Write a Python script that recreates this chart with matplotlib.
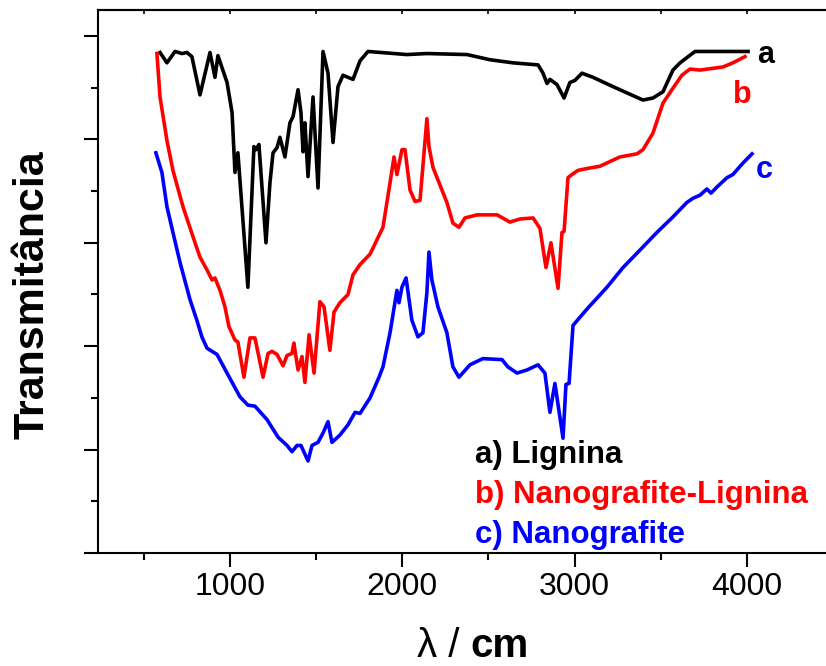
import matplotlib.pyplot as plt
import numpy as np

plt.rcParams['font.family'] = ['Liberation Sans', 'DejaVu Sans']

# a) Lignina
wn_a = [594, 634, 681, 721, 750, 779, 826, 884, 913, 930, 983, 1012, 1029, 1046,
        1104, 1139, 1151, 1168, 1209, 1232, 1250, 1273, 1290, 1319, 1348, 1366,
        1395, 1412, 1424, 1435, 1453, 1482, 1511, 1540, 1569, 1598, 1627, 1656,
        1714, 1755, 1801, 2027, 2143, 2376, 2509, 2643, 2788, 2817, 2840, 2857,
        2898, 2939, 2973, 3002, 3043, 3107, 3223, 3397, 3455, 3513, 3571, 3612,
        3699, 4007]
tr_a = [4.84, 4.74, 4.85, 4.83, 4.84, 4.80, 4.43, 4.84, 4.60, 4.81, 4.55, 4.26,
        3.68, 3.87, 2.57, 3.93, 3.90, 3.95, 3.00, 3.58, 3.87, 3.92, 4.02, 3.83,
        4.16, 4.22, 4.48, 4.26, 3.88, 4.16, 3.64, 4.41, 3.53, 4.85, 4.64, 3.97,
        4.51, 4.62, 4.58, 4.76, 4.85, 4.82, 4.83, 4.82, 4.77, 4.74, 4.72, 4.64,
        4.54, 4.58, 4.53, 4.40, 4.55, 4.57, 4.64, 4.60, 4.51, 4.38, 4.40, 4.46,
        4.67, 4.74, 4.85, 4.85]

# b) Nanografite-Lignina
wn_b = [576, 594, 634, 669, 727, 785, 826, 866, 896, 913, 942, 971, 994, 1029,
        1046, 1081, 1116, 1145, 1192, 1221, 1244, 1273, 1308, 1331, 1360, 1371,
        1395, 1418, 1435, 1459, 1488, 1522, 1546, 1580, 1604, 1638, 1685, 1714,
        1755, 1813, 1888, 1929, 1952, 1969, 1998, 2016, 2045, 2074, 2103, 2143,
        2155, 2178, 2259, 2294, 2329, 2364, 2434, 2550, 2625, 2683, 2759, 2799,
        2834, 2863, 2904, 2927, 2939, 2962, 2985, 3020, 3078, 3147, 3263, 3362,
        3397, 3455, 3513, 3565, 3623, 3670, 3728, 3861, 3919, 3989]
tr_b = [4.83, 4.41, 3.99, 3.70, 3.35, 3.06, 2.86, 2.74, 2.64, 2.66, 2.54, 2.38,
        2.19, 2.06, 2.04, 1.70, 2.08, 2.08, 1.70, 1.93, 1.95, 1.92, 1.81, 1.91,
        1.93, 2.03, 1.77, 1.90, 1.65, 2.11, 1.74, 2.43, 2.38, 1.96, 2.33, 2.42,
        2.50, 2.69, 2.79, 2.89, 3.15, 3.58, 3.83, 3.66, 3.90, 3.90, 3.51, 3.40,
        3.41, 4.20, 3.93, 3.73, 3.39, 3.19, 3.15, 3.24, 3.27, 3.27, 3.20, 3.23,
        3.24, 3.14, 2.76, 3.00, 2.56, 3.10, 3.11, 3.63, 3.66, 3.70, 3.72, 3.74,
        3.83, 3.86, 3.90, 4.06, 4.35, 4.48, 4.62, 4.68, 4.67, 4.70, 4.74, 4.80]

# c) Nanografite
wn_c = [570, 605, 634, 669, 710, 768, 808, 837, 867, 925, 983, 1058, 1104, 1145,
        1215, 1279, 1331, 1360, 1389, 1412, 1453, 1476, 1511, 1540, 1569, 1592,
        1638, 1685, 1726, 1755, 1813, 1865, 1888, 1929, 1969, 1981, 1998, 2022,
        2056, 2091, 2120, 2143, 2155, 2172, 2207, 2259, 2294, 2329, 2393, 2468,
        2579, 2613, 2666, 2724, 2788, 2828, 2857, 2886, 2933, 2950, 2968, 2991,
        3026, 3078, 3188, 3281, 3380, 3478, 3571, 3652, 3687, 3728, 3768, 3792,
        3827, 3885, 3919, 3977, 4030]
tr_c = [3.87, 3.68, 3.35, 3.10, 2.81, 2.45, 2.25, 2.09, 1.98, 1.92, 1.74, 1.51,
        1.43, 1.42, 1.29, 1.12, 1.04, 0.98, 1.04, 1.04, 0.89, 1.04, 1.07, 1.16,
        1.27, 1.07, 1.14, 1.24, 1.36, 1.35, 1.50, 1.70, 1.80, 2.13, 2.54, 2.42,
        2.57, 2.66, 2.25, 2.09, 2.13, 2.52, 2.91, 2.64, 2.38, 2.13, 1.80, 1.70,
        1.82, 1.88, 1.87, 1.80, 1.74, 1.77, 1.82, 1.74, 1.36, 1.64, 1.11, 1.63,
        1.64, 2.20, 2.27, 2.37, 2.57, 2.76, 2.93, 3.10, 3.25, 3.39, 3.43, 3.46,
        3.52, 3.48, 3.54, 3.63, 3.66, 3.77, 3.86]

series = [(wn_a, tr_a, 'black'), (wn_b, tr_b, 'red'), (wn_c, tr_c, 'blue')]
end_labels = [('a', 'black', 4060, 4.74), ('b', 'red', 3920, 4.35), ('c', 'blue', 4050, 3.63)]
legend_lines = [('a) Lignina', 'black', 0.87), ('b) Nanografite-Lignina', 'red', 0.48),
                ('c) Nanografite', 'blue', 0.10)]

fig = plt.figure(figsize=(8.26, 6.66), dpi=100)
ax = fig.add_axes([98/826, 1 - 553/666, 735/826, 543/666])

for wn, tr, col in series:
    ax.plot(wn, tr, color=col, lw=2.6, solid_joinstyle='round')

for txt, col, x, y in end_labels:
    ax.text(x, y, txt, color=col, fontsize=22, fontweight='bold', va='baseline')
for txt, col, y in legend_lines:
    ax.text(2422, y, txt, color=col, fontsize=22.5, fontweight='bold', va='baseline')

ax.set_xlim(234, 4500)
ax.set_ylim(0, 5.251)
ax.set_xticks([1000, 2000, 3000, 4000])
ax.set_xticks(np.arange(500, 4500, 1000), minor=True)
ax.set_yticks(np.arange(0, 6, 1))
ax.set_yticks(np.arange(0.5, 5.5, 1), minor=True)
ax.set_yticklabels([])
ax.tick_params(axis='x', which='major', direction='out', length=10, width=1.5, labelsize=23, pad=4)
ax.tick_params(axis='x', which='minor', direction='out', length=5, width=1.5)
ax.tick_params(axis='y', which='major', direction='out', length=10, width=1.5)
ax.tick_params(axis='y', which='minor', direction='out', length=5, width=1.5)
for side in ['left', 'bottom', 'top']:
    ax.spines[side].set_linewidth(1.5)
ax.spines['right'].set_visible(False)

top = ax.secondary_xaxis('top')
top.set_xticks([1000, 2000, 3000, 4000])
top.set_xticks(np.arange(500, 4500, 1000), minor=True)
top.tick_params(which='both', direction='in', length=3, width=1.2, labeltop=False)
top.spines['top'].set_linewidth(1.5)

fig.text(33/826, 1 - 295/666, 'Transmitância', rotation=90, fontsize=31,
         fontweight='bold', ha='center', va='center')
fig.text(470/826, 1 - 646/666, 'λ / ', fontsize=29, ha='right', va='center')
fig.text(470/826, 1 - 646/666, 'cm', fontsize=29, fontweight='bold', ha='left', va='center')

fig.savefig('out.png', dpi=100)
